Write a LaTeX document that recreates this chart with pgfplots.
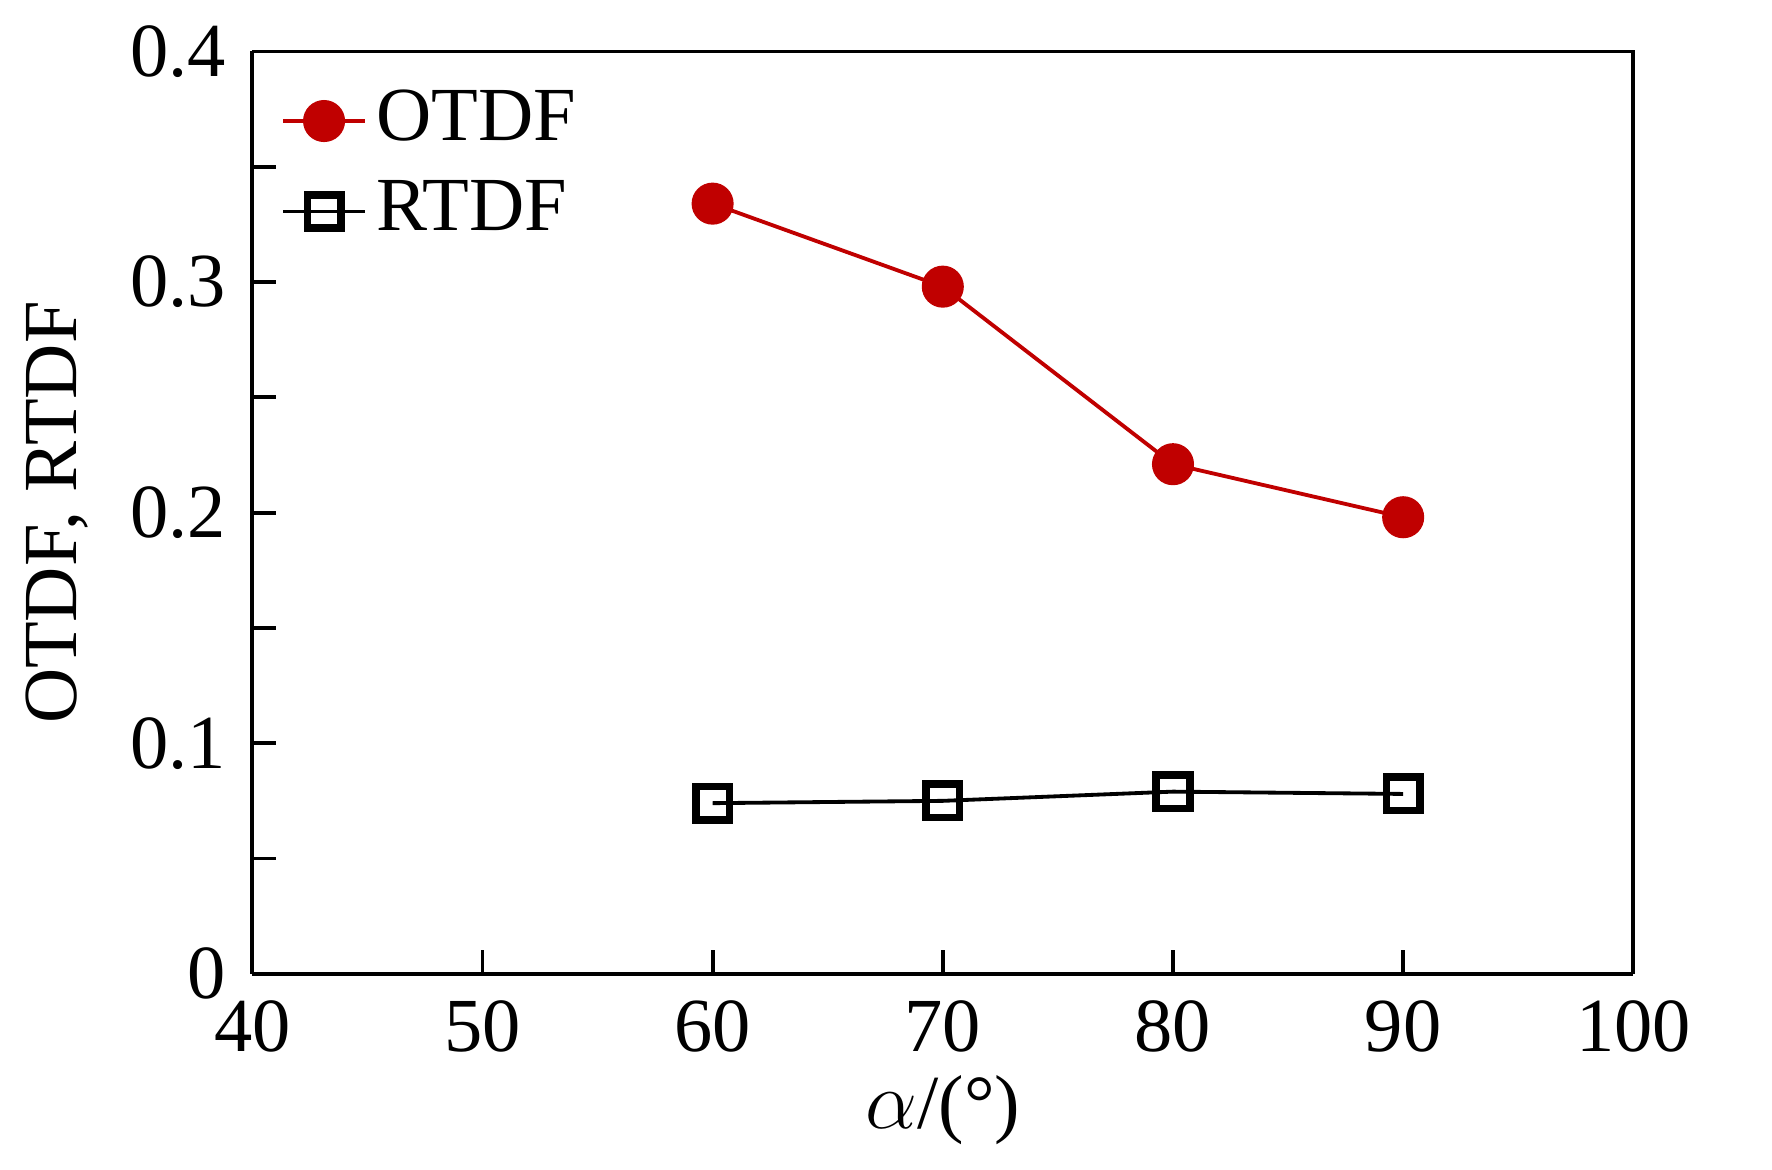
\documentclass[border=0pt]{standalone}
\usepackage{pgfplots}
\pgfplotsset{compat=1.18}
\usepackage{fontspec}
\setmainfont{Liberation Serif}
\definecolor{myred}{HTML}{C00000}
\begin{document}
\fontsize{16}{19}\selectfont
\begin{tikzpicture}
\begin{axis}[name=ax,
  scale only axis, width=289pt, height=193pt,
  xmin=40, xmax=100, ymin=0, ymax=0.4,
  xtick={40,50,...,100},
  ytick={0,0.05,...,0.4},
  yticklabels={0,,0.1,,0.2,,0.3,,0.4},
  axis x line*=bottom, axis y line*=left,
  axis line style={line width=0.8pt},
  tick style={line width=0.8pt, black},
  tick align=inside, major tick length=5pt,
  /pgf/number format/assume math mode=true,
  tick label style={font=\fontsize{16}{19}\selectfont},
  label style={font=\fontsize{16}{19}\selectfont},
  xlabel={$\alpha$/(°)},
  ylabel={OTDF, RTDF},
  xlabel style={yshift=6pt},
  ylabel style={yshift=-2pt},
  legend style={draw=none, fill=none, at={(0.01,0.98)}, anchor=north west, font=\fontsize{16}{19}\selectfont, row sep=2pt},
  legend cell align=left,
  every axis plot/.append style={line width=0.8pt},
  clip=false,
]
\addplot[myred, mark=*, mark size=4pt, mark options={fill=myred}] coordinates {(60,0.334) (70,0.298) (80,0.221) (90,0.198)};
\addlegendentry{OTDF}
\addplot[black, mark=square, mark size=3.5pt, mark options={line width=1.6pt}] coordinates {(60,0.074) (70,0.075) (80,0.079) (90,0.078)};
\addlegendentry{RTDF}
\draw[line width=0.8pt] (rel axis cs:0,1) -- (rel axis cs:1,1) -- (rel axis cs:1,0);
\end{axis}
\path ([xshift=29pt,yshift=8pt]ax.north east) circle (0.01pt);
\end{tikzpicture}
\end{document}
